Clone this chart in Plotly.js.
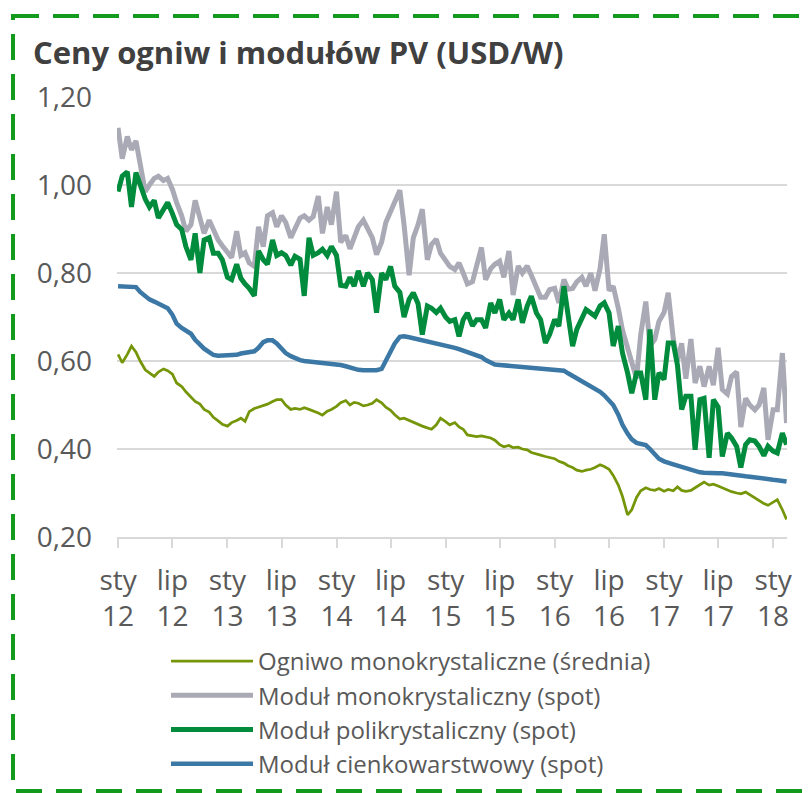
<!DOCTYPE html>
<html><head><meta charset="utf-8">
<script src="https://cdn.plot.ly/plotly-3.0.1.min.js"></script>
<style>html,body{margin:0;padding:0;background:#fff}#chart{width:811px;height:793px}</style>
</head><body><div id="chart"></div>
<script>
// Semi-monthly observations (1st and 15th of each month), Jan 2012 - Feb 2018
const firstYear = 2012;
const nObs = 148;

const tickDates = ['2012-01-01','2012-07-01','2013-01-01','2013-07-01','2014-01-01','2014-07-01',
  '2015-01-01','2015-07-01','2016-01-01','2016-07-01','2017-01-01','2017-07-01','2018-01-01'];
const tickLabels = ['sty<br>12','lip<br>12','sty<br>13','lip<br>13','sty<br>14','lip<br>14',
  'sty<br>15','lip<br>15','sty<br>16','lip<br>16','sty<br>17','lip<br>17','sty<br>18'];

const seriesNames = ['Ogniwo monokrystaliczne (średnia)','Moduł monokrystaliczny (spot)',
  'Moduł polikrystaliczny (spot)','Moduł cienkowarstwowy (spot)'];

const ogniwoMono = [
 0.615,0.596,0.615,0.634,0.620,0.600,0.580,0.572,0.565,0.575,0.582,0.578,
 0.570,0.550,0.542,0.530,0.518,0.508,0.502,0.490,0.484,0.472,0.464,0.456,
 0.452,0.460,0.465,0.470,0.463,0.485,0.492,0.495,0.498,0.502,0.508,0.512,
 0.512,0.500,0.490,0.492,0.490,0.494,0.490,0.487,0.482,0.477,0.486,0.490,
 0.497,0.505,0.510,0.500,0.506,0.504,0.498,0.500,0.504,0.512,0.505,0.495,
 0.488,0.478,0.468,0.470,0.465,0.460,0.455,0.452,0.448,0.445,0.455,0.470,
 0.462,0.455,0.460,0.450,0.445,0.432,0.430,0.428,0.430,0.428,0.425,0.420,
 0.410,0.405,0.408,0.403,0.404,0.400,0.398,0.392,0.388,0.386,0.383,0.380,
 0.378,0.372,0.368,0.362,0.358,0.352,0.349,0.352,0.354,0.358,0.364,0.360,
 0.354,0.340,0.318,0.292,0.250,0.262,0.290,0.305,0.312,0.308,0.306,0.310,
 0.304,0.308,0.305,0.314,0.306,0.304,0.306,0.312,0.320,0.325,0.318,0.320,
 0.316,0.312,0.306,0.303,0.300,0.298,0.302,0.296,0.290,0.282,0.276,0.272,
 0.280,0.285,0.262,0.240];

const modulMono = [
 1.130,1.060,1.110,1.080,1.100,1.050,0.985,1.000,1.015,1.020,1.010,1.015,
 0.990,0.960,0.930,0.895,0.910,0.965,0.920,0.890,0.920,0.900,0.875,0.862,
 0.848,0.835,0.895,0.840,0.846,0.823,0.815,0.905,0.860,0.930,0.937,0.905,
 0.930,0.915,0.880,0.900,0.925,0.930,0.920,0.928,0.975,0.890,0.950,0.910,
 0.985,0.870,0.885,0.855,0.880,0.905,0.920,0.900,0.880,0.842,0.870,0.915,
 0.940,0.960,0.988,0.910,0.795,0.880,0.910,0.945,0.830,0.865,0.877,0.845,
 0.826,0.815,0.808,0.823,0.800,0.775,0.780,0.820,0.858,0.785,0.810,0.820,
 0.827,0.790,0.850,0.750,0.816,0.800,0.816,0.795,0.770,0.745,0.745,0.762,
 0.765,0.732,0.785,0.763,0.765,0.780,0.790,0.770,0.800,0.760,0.810,0.888,
 0.760,0.770,0.720,0.670,0.630,0.600,0.560,0.660,0.735,0.634,0.649,0.690,
 0.710,0.755,0.650,0.600,0.640,0.560,0.650,0.550,0.588,0.542,0.588,0.545,
 0.630,0.535,0.525,0.565,0.575,0.450,0.515,0.500,0.489,0.500,0.539,0.421,
 0.489,0.489,0.618,0.459];

const modulPoli = [
 0.985,1.020,1.030,0.950,1.028,1.000,0.968,0.950,0.965,0.925,0.945,0.960,
 0.935,0.910,0.899,0.860,0.830,0.890,0.800,0.875,0.880,0.845,0.845,0.830,
 0.790,0.785,0.820,0.788,0.775,0.765,0.748,0.850,0.830,0.820,0.875,0.840,
 0.846,0.840,0.818,0.838,0.831,0.748,0.880,0.840,0.846,0.854,0.840,0.860,
 0.840,0.772,0.770,0.790,0.770,0.805,0.770,0.800,0.785,0.710,0.800,0.785,
 0.815,0.770,0.756,0.700,0.740,0.755,0.730,0.660,0.725,0.720,0.710,0.720,
 0.700,0.690,0.694,0.656,0.694,0.709,0.680,0.694,0.694,0.675,0.732,0.709,
 0.740,0.694,0.709,0.694,0.740,0.687,0.725,0.747,0.709,0.694,0.641,0.660,
 0.694,0.679,0.770,0.694,0.634,0.672,0.694,0.717,0.709,0.702,0.725,0.732,
 0.709,0.634,0.679,0.618,0.573,0.527,0.573,0.573,0.512,0.672,0.512,0.573,
 0.558,0.641,0.641,0.590,0.490,0.520,0.520,0.398,0.512,0.515,0.380,0.512,
 0.495,0.383,0.436,0.425,0.406,0.358,0.410,0.421,0.418,0.406,0.385,0.406,
 0.395,0.391,0.436,0.410];

const modulCienko = [
 0.770,0.770,0.770,0.770,0.768,0.757,0.748,0.740,0.735,0.730,0.725,0.720,
 0.705,0.685,0.675,0.668,0.662,0.648,0.636,0.628,0.620,0.614,0.612,0.612,
 0.612,0.613,0.614,0.617,0.619,0.620,0.622,0.630,0.643,0.647,0.647,0.640,
 0.628,0.618,0.611,0.606,0.602,0.600,0.599,0.598,0.597,0.597,0.596,0.595,
 0.593,0.591,0.588,0.585,0.583,0.580,0.579,0.579,0.579,0.579,0.582,0.600,
 0.620,0.640,0.655,0.656,0.654,0.652,0.650,0.648,0.644,0.641,0.640,0.637,
 0.635,0.633,0.630,0.627,0.624,0.621,0.618,0.614,0.609,0.602,0.596,0.592,
 0.591,0.590,0.590,0.590,0.589,0.588,0.586,0.584,0.583,0.582,0.581,0.580,
 0.579,0.579,0.578,0.572,0.566,0.560,0.555,0.549,0.543,0.538,0.530,0.522,
 0.512,0.500,0.478,0.455,0.435,0.422,0.414,0.411,0.409,0.400,0.388,0.378,
 0.372,0.368,0.365,0.362,0.359,0.356,0.352,0.349,0.347,0.346,0.345,0.345,
 0.345,0.345,0.344,0.343,0.341,0.340,0.338,0.337,0.335,0.333,0.332,0.331,
 0.330,0.329,0.328,0.326];

function halfMonthDates(y0, n) {
  const out = [];
  for (let i = 0; i < n; i++) {
    const mi = Math.floor(i / 2);
    const y = y0 + Math.floor(mi / 12);
    const m = (mi % 12) + 1;
    out.push(y + '-' + String(m).padStart(2, '0') + '-' + (i % 2 ? '15' : '01'));
  }
  return out;
}
const dates = halfMonthDates(firstYear, nObs);

const FONT = '"Open Sans", Lato, sans-serif';
const TXT = '#595959';

// plot area in pixels
const L = 117, R = 787, T = 97, B = 537, W = 811, H = 793;
const pw = R - L, ph = B - T;
const px = v => (v - L) / pw;
const py = v => (B - v) / ph;

const colors = ['#76960A', '#AAAAB6', '#008C3C', '#3C78A5'];
const widths = [2.75, 5, 5, 4.5];
const values = [ogniwoMono, modulMono, modulPoli, modulCienko];

const traces = values.map((vals, i) => ({
  type: 'scatter', mode: 'lines', x: dates, y: vals, name: seriesNames[i],
  line: {color: colors[i], width: widths[i], shape: 'linear'},
  hoverinfo: 'skip'
}));

const layout = {
  width: W, height: H,
  margin: {l: L, r: W - R, t: T, b: H - B, pad: 0, autoexpand: false},
  paper_bgcolor: '#ffffff', plot_bgcolor: '#ffffff',
  separators: ', ',
  font: {family: FONT, color: TXT, size: 28},
  title: {
    text: '<b>Ceny ogniw i modułów PV (USD/W)</b>',
    font: {family: FONT, size: 31, color: '#404040'},
    xref: 'container', x: 33 / W, xanchor: 'left',
    yref: 'container', y: 1 - 53 / H, yanchor: 'middle'
  },
  xaxis: {
    type: 'date',
    range: ['2011-12-28 12:00', '2018-02-16 12:00'],
    tickmode: 'array', tickvals: tickDates, ticktext: tickLabels,
    showgrid: false, zeroline: false,
    showline: true, linecolor: '#D9D9D9', linewidth: 2,
    ticks: 'outside', ticklen: 9, tickwidth: 2, tickcolor: '#D9D9D9',
    tickfont: {family: FONT, size: 28, color: TXT},
    ticklabelstandoff: 8
  },
  yaxis: {
    range: [0.2, 1.2], tickvals: [0.2, 0.4, 0.6, 0.8, 1.0, 1.2], tickformat: '.2f',
    showgrid: true, gridcolor: '#D9D9D9', gridwidth: 2,
    zeroline: false, showline: false, ticks: '',
    tickfont: {family: FONT, size: 28, color: TXT},
    ticklabelstandoff: 24
  },
  showlegend: true,
  legend: {
    orientation: 'v', xref: 'paper', yref: 'paper',
    x: px(166), xanchor: 'left', y: py(639), yanchor: 'top',
    font: {family: FONT, size: 24, color: TXT},
    itemwidth: 82, tracegroupgap: 0, bgcolor: 'rgba(0,0,0,0)', borderwidth: 0,
    traceorder: 'normal'
  },
  shapes: [{
    type: 'rect', xref: 'paper', yref: 'paper',
    x0: px(13), x1: px(840), y0: py(16), y1: py(791),
    line: {color: '#149B1E', width: 4, dash: '26px,14px'},
    fillcolor: 'rgba(0,0,0,0)', layer: 'above'
  }],
  hovermode: false
};

Plotly.newPlot('chart', traces, layout, {displayModeBar: false, staticPlot: true});
</script>
</body></html>
